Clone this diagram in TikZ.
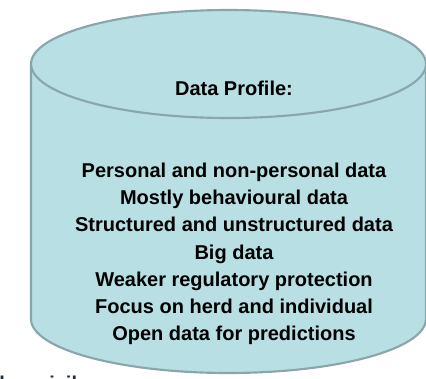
\documentclass[tikz,border=0pt]{standalone}
\usepackage{fontspec}
\setmainfont{Liberation Sans}
\definecolor{drumfill}{HTML}{B8DFE3}
\definecolor{drumline}{HTML}{8AA6AA}
\definecolor{cuttext}{HTML}{1F2D3D}

\begin{document}
\begin{tikzpicture}[
    x=0.75pt, y=-0.75pt,
    every node/.style={font=\bfseries\fontsize{15}{20.4}\selectfont, inner sep=0pt},
    drum/.style={draw=drumline, line width=1.6pt}
]

% Frame of the picture
\useasboundingbox (0,0) rectangle (426,379);
\clip (0,0) rectangle (426,379);

% Centres of the two ends
\coordinate (T) at (228.5,64);   % top end
\coordinate (B) at (228.5,319);  % bottom end

\def\rx{148.1pt}
\def\ry{40.5pt}

% Body of the cylinder
\fill[drumfill] (31,64) -- (31,319)
    arc[start angle=180, end angle=360, x radius=\rx, y radius=\ry]
    -- (426,64) -- cycle;
\draw[drum] (31,64) -- (31,319)
    arc[start angle=180, end angle=360, x radius=\rx, y radius=\ry]
    -- (426,64);

% Top end
\draw[drum, fill=drumfill] (T) ellipse[x radius=\rx, y radius=\ry];

% Texts
\node (title) at (234,88) {Data Profile:};
\node[align=center] (profile) at (234,254) {Personal and non-personal data\\
    Mostly behavioural data\\
    Structured and unstructured data\\
    Big data\\
    Weaker regulatory protection\\
    Focus on herd and individual\\
    Open data for predictions};

% Cut-off text below
\node[anchor=base west, text=cuttext] (cut) at (-1,390) {le -- civil};

\end{tikzpicture}
\end{document}
